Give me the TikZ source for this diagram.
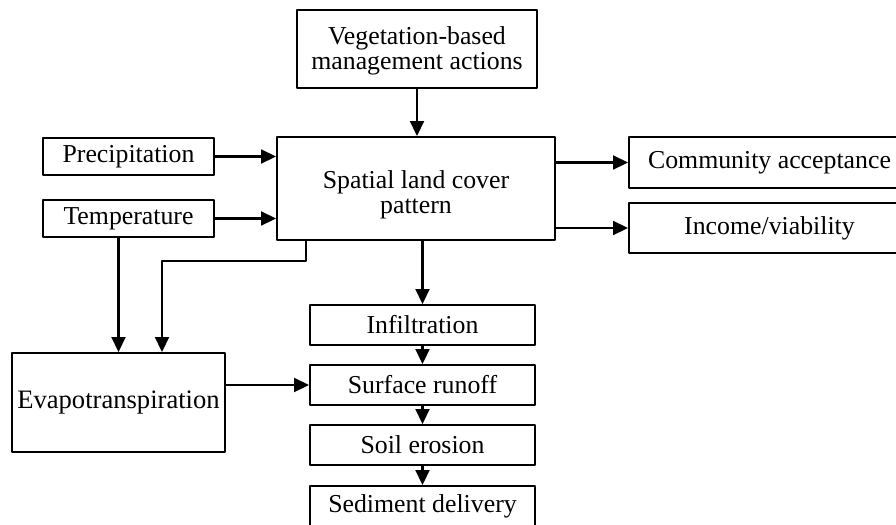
\documentclass[tikz,border=0pt]{standalone}
\usepackage{fontspec}
\setmainfont{Liberation Serif}
\usetikzlibrary{arrows.meta,positioning}

\begin{document}
\begin{tikzpicture}[x=0.5pt, y=-0.5pt, line cap=round, line join=round,
		box/.style={draw, line width=1pt, inner sep=0pt, align=center, font=\fontsize{12.9}{12.6}\selectfont},
		arr/.style={line width=1.1pt, line cap=butt, -{Triangle[length=7.5pt,width=7pt]}}]
					\useasboundingbox (0,0) rectangle (896,525);
			
					\node[box, minimum width=120pt, minimum height=39pt] (veg) at (417,49) {\rule{0pt}{10.5pt}Vegetation-based\\management actions};
					\node[box, minimum width=139pt, minimum height=51.5pt] (spatial) at (416,188.5) {\rule{0pt}{15.5pt}Spatial land cover\\pattern};
					\node[box, minimum width=85.5pt, minimum height=18.5pt] (precip) at (128.5,156.5) {Precipitation};
					\node[box, minimum width=85.5pt, minimum height=18.5pt] (temp) at (128.5,218.5) {Temperature};
					\node[box, minimum width=140.5pt, minimum height=25.5pt] (accept) at (769.5,162.5) {Community acceptance};
					\node[box, minimum width=140.5pt, minimum height=25pt] (income) at (769.5,228) {Income/viability};
			
					\node[box, minimum width=112.5pt, minimum height=20pt] (infil) at (422.5,325) {Infiltration};
					\node[box, minimum width=112.5pt, minimum height=20pt] (runoff) at (422.5,385) {Surface runoff};
					\node[box, minimum width=112.5pt, minimum height=20pt] (erosion) at (422.5,445) {Soil erosion};
					\node[box, minimum width=112.5pt, minimum height=20pt] (sediment) at (422.5,506) {Sediment delivery};
					\node[box, minimum width=106.5pt, minimum height=49.5pt, font=\fontsize{13.3}{14}\selectfont] (evap) at (118.5,402.5) {Evapotranspiration};
			
					\draw[arr] (veg.south) -- (veg.south |- spatial.north);
					\draw[arr] (precip.east) -- (precip.east -| spatial.west);
					\draw[arr] (temp.east) -- (temp.east -| spatial.west);
					\draw[arr] (spatial.east |- accept) -- (accept.west);
					\draw[arr] (spatial.east |- income) -- (income.west);
					\draw[arr] (spatial.south -| infil) -- (infil.north);
			
					\coordinate (bend) at (162,261);
					\draw[arr] (temp.south -| evap) -- (evap.north);
					\draw[arr] ([xshift=15pt]spatial.south west) |- (bend) -- (bend |- evap.north);
					\draw[arr] (evap.east |- runoff) -- (runoff.west);
			
					\draw[arr] (infil) -- (runoff);
					\draw[arr] (runoff) -- (erosion);
					\draw[arr] (erosion) -- (sediment);
				\end{tikzpicture}
\end{document}
